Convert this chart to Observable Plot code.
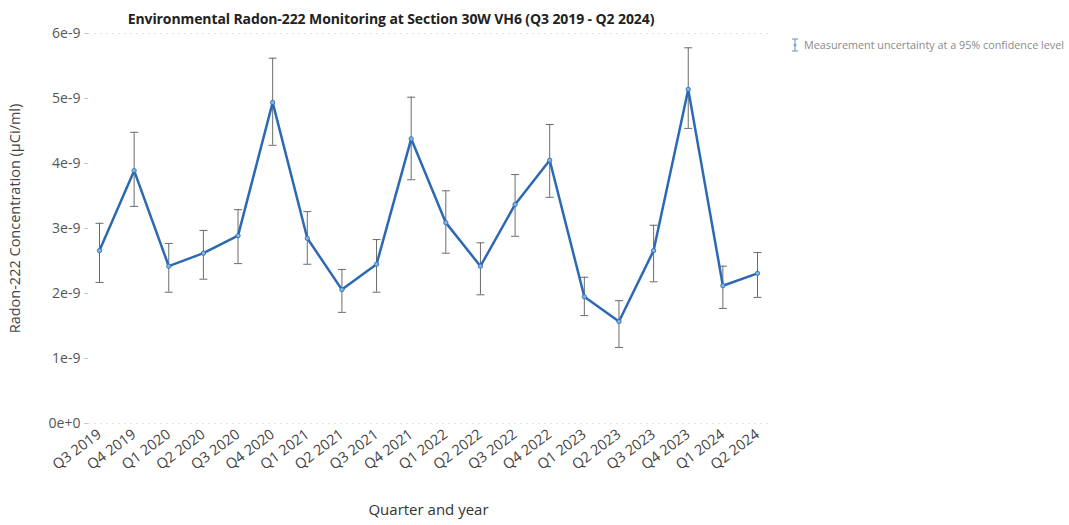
<!DOCTYPE html>
<html>
<head>
<meta charset="utf-8">
<script src="https://cdn.jsdelivr.net/npm/d3@7"></script>
<script src="https://cdn.jsdelivr.net/npm/@observablehq/plot@0.6"></script>
<style>
  html, body { margin: 0; padding: 0; background: #fff; }
  #wrap { position: relative; width: 1069px; height: 525px; overflow: hidden; font-family: "Open Sans", sans-serif; }
  #title { position: absolute; left: 391px; top: 9px; transform: translateX(-50%); white-space: nowrap;
           font-weight: bold; font-size: 14px; color: #222; letter-spacing: -0.1px; }
  #legend { position: absolute; left: 790px; top: 37px; white-space: nowrap; font-size: 10.8px; color: #8a8a8a;
            display: flex; align-items: center; gap: 4px; }
  #chart { position: absolute; left: 0; top: 0; }
</style>
</head>
<body>
<div id="wrap">
  <div id="chart"></div>
  <div id="title">Environmental Radon-222 Monitoring at Section 30W VH6 (Q3 2019 - Q2 2024)</div>
  <div id="legend">
    <svg width="10" height="14" viewBox="0 0 10 14">
      <line x1="5" y1="1" x2="5" y2="13" stroke="#6a8fb0" stroke-width="1"/>
      <line x1="2" y1="1" x2="8" y2="1" stroke="#6a8fb0" stroke-width="1"/>
      <line x1="2" y1="13" x2="8" y2="13" stroke="#6a8fb0" stroke-width="1"/>
      <circle cx="5" cy="7" r="1.5" fill="#6fa8dc"/>
    </svg>
    <span>Measurement uncertainty at a 95% confidence level</span>
  </div>
</div>
<script>
// Data (µCi/ml, in units of 1e-9)
const quarters = ["Q3 2019","Q4 2019","Q1 2020","Q2 2020","Q3 2020","Q4 2020","Q1 2021","Q2 2021","Q3 2021","Q4 2021",
                  "Q1 2022","Q2 2022","Q3 2022","Q4 2022","Q1 2023","Q2 2023","Q3 2023","Q4 2023","Q1 2024","Q2 2024"];
const concentration = [2.66, 3.89, 2.42, 2.62, 2.89, 4.94, 2.85, 2.06, 2.45, 4.38,
                       3.09, 2.42, 3.37, 4.05, 1.95, 1.57, 2.66, 5.14, 2.12, 2.31];
const upper = [3.08, 4.48, 2.77, 2.97, 3.29, 5.62, 3.26, 2.37, 2.83, 5.02,
               3.58, 2.78, 3.83, 4.60, 2.25, 1.89, 3.05, 5.78, 2.42, 2.63];
const lower = [2.17, 3.34, 2.02, 2.22, 2.46, 4.28, 2.45, 1.71, 2.02, 3.75,
               2.62, 1.98, 2.88, 3.48, 1.66, 1.17, 2.18, 4.54, 1.77, 1.94];
const yTicks = [0, 1, 2, 3, 4, 5, 6];

const data = quarters.map((q, i) => ({
  q, v: concentration[i] * 1e-9, hi: upper[i] * 1e-9, lo: lower[i] * 1e-9
}));

const lineColor = "#2b69b3";
const barColor = "#6b6b6b";
const capSymbol = { draw(ctx) { ctx.moveTo(-4, 0); ctx.lineTo(4, 0); } };

const chart = Plot.plot({
  width: 1069,
  height: 525,
  marginLeft: 88,
  marginRight: 301,
  marginTop: 33,
  marginBottom: 102,
  style: { fontFamily: "Open Sans, sans-serif", background: "transparent" },
  x: { type: "point", domain: quarters, padding: 0, round: false, insetLeft: 11, insetRight: 11, label: null },
  y: { domain: [0, 6e-9], label: null },
  marks: [
    Plot.ruleY([0, 6e-9], { stroke: "#e2e2e2", strokeWidth: 1, strokeDasharray: "2,4" }),
    Plot.axisY(yTicks.map(t => t * 1e-9), {
      tickFormat: d3.format(".0e"), tickSize: 4, tickPadding: 4,
      stroke: "#c8c8c8", fill: "#555", fontSize: 14, label: null
    }),
    Plot.axisX({
      tickRotate: -37, tickSize: 0, tickPadding: 9, fill: "#444", fontSize: 14.5, label: null
    }),
    Plot.ruleX(data, { x: "q", y1: "lo", y2: "hi", stroke: barColor, strokeWidth: 1 }),
    Plot.dot(data, { x: "q", y: "hi", symbol: capSymbol, stroke: barColor, strokeWidth: 1, fill: "none" }),
    Plot.dot(data, { x: "q", y: "lo", symbol: capSymbol, stroke: barColor, strokeWidth: 1, fill: "none" }),
    Plot.line(data, { x: "q", y: "v", stroke: lineColor, strokeWidth: 2.5 }),
    Plot.dot(data, { x: "q", y: "v", r: 2.2, fill: "#7fb3e0", stroke: lineColor, strokeWidth: 0.8 }),
    Plot.text(["Radon-222 Concentration (µCi/ml)"], {
      frameAnchor: "left", textAnchor: "middle", rotate: -90, dx: -73, dy: -10, fontSize: 14.5, fill: "#444"
    }),
    Plot.text(["Quarter and year"], {
      frameAnchor: "bottom", dy: 91, fontSize: 15, fill: "#333"
    })
  ]
});
document.getElementById("chart").appendChild(chart);
</script>
</body>
</html>
